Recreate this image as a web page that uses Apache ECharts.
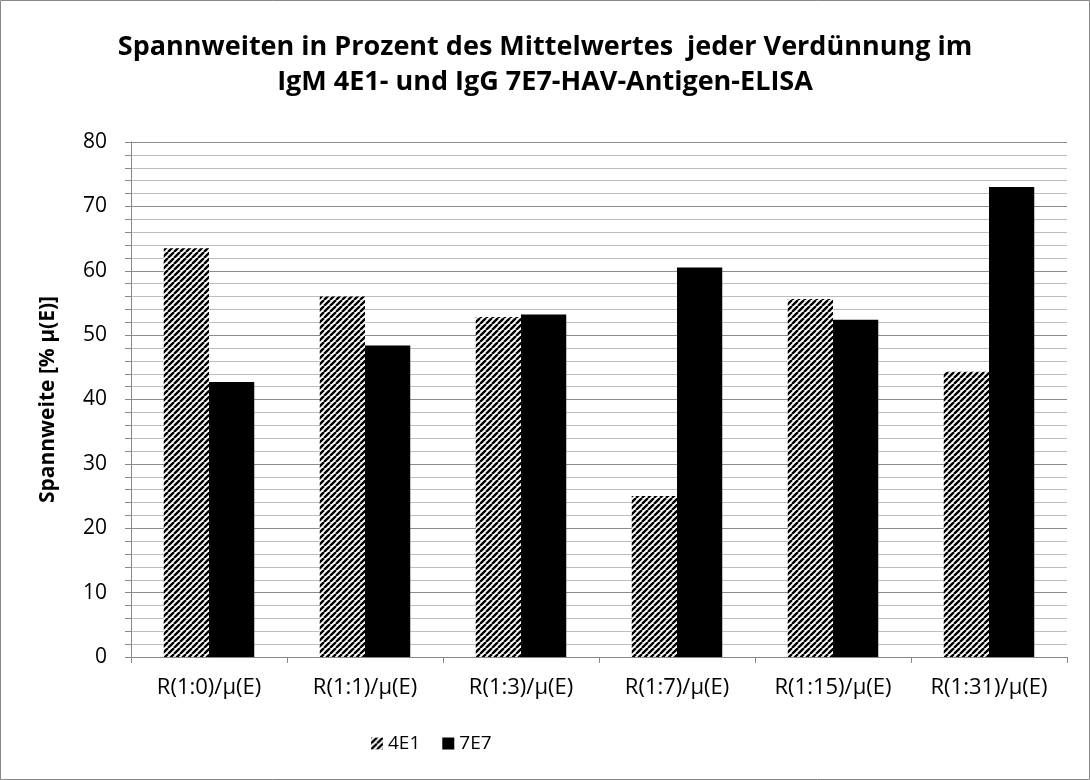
<!DOCTYPE html>
<html>
<head>
<meta charset="utf-8">
<script src="https://cdn.jsdelivr.net/npm/echarts@6/dist/echarts.min.js"></script>
<style>
  html, body { margin: 0; padding: 0; background: #fff; }
  #chart { width: 1090px; height: 780px; }
</style>
</head>
<body>
<div id="chart"></div>
<script>
const categories = ['R(1:0)/µ(E)', 'R(1:1)/µ(E)', 'R(1:3)/µ(E)', 'R(1:7)/µ(E)', 'R(1:15)/µ(E)', 'R(1:31)/µ(E)'];
const values4E1 = [63.5, 56.0, 52.8, 25.0, 55.6, 44.3];
const values7E7 = [42.7, 48.4, 53.2, 60.5, 52.4, 73.0];

// diagonal hatch like the Excel "wide upward diagonal" fill
function makeHatch() {
  const c = document.createElement('canvas');
  c.width = 6; c.height = 6;
  const ctx = c.getContext('2d');
  ctx.fillStyle = '#fff';
  ctx.fillRect(0, 0, 6, 6);
  ctx.strokeStyle = '#000';
  ctx.lineWidth = 2.4;
  ctx.beginPath();
  for (let k = -12; k <= 12; k += 6) {
    ctx.moveTo(k, 6);
    ctx.lineTo(k + 6, 0);
  }
  ctx.stroke();
  return c;
}
const hatch = { image: makeHatch(), repeat: 'repeat' };

const font = 'Open Sans';
const chart = echarts.init(document.getElementById('chart'));
const option = {
  animation: false,
  backgroundColor: '#fff',
  title: {
    text: 'Spannweiten in Prozent des Mittelwertes  jeder Verdünnung im\nIgM 4E1- und IgG 7E7-HAV-Antigen-ELISA',
    left: 'center',
    top: 25,
    textStyle: { fontFamily: font, fontWeight: 'bold', fontSize: 27, color: '#000', lineHeight: 35 }
  },
  graphic: [{
    type: 'rect',
    shape: { x: 0.5, y: 0.5, width: 1089, height: 779 },
    style: { fill: 'none', stroke: '#888', lineWidth: 1 },
    silent: true
  }],
  legend: {
    bottom: 22,
    left: 366,
    itemWidth: 12,
    itemHeight: 12,
    itemGap: 22,
    textStyle: { fontFamily: font, fontSize: 19, color: '#000' },
    data: [
      { name: '4E1', icon: 'rect', itemStyle: { color: hatch } },
      { name: '7E7', icon: 'rect' }
    ]
  },
  grid: { left: 131, right: 23, top: 142, bottom: 123 },
  xAxis: {
    type: 'category',
    data: categories,
    axisLine: { lineStyle: { color: '#888' } },
    axisTick: { show: true, length: 6, lineStyle: { color: '#888' } },
    axisLabel: { fontFamily: font, fontSize: 22, color: '#000', margin: 20 }
  },
  yAxis: {
    type: 'value',
    min: 0, max: 80, interval: 10,
    name: 'Spannweite [% µ(E)]',
    nameLocation: 'middle',
    nameGap: 72,
    nameTextStyle: { fontFamily: font, fontWeight: 'bold', fontSize: 21, color: '#000' },
    axisLine: { show: true, lineStyle: { color: '#888' } },
    axisTick: { show: true, inside: false, length: 6, lineStyle: { color: '#888' } },
    minorTick: { show: true, splitNumber: 5, length: 6, lineStyle: { color: '#888' } },
    axisLabel: { fontFamily: font, fontSize: 21, color: '#000', margin: 24 },
    splitLine: { show: true, lineStyle: { color: '#8c8c8c', width: 1 } },
    minorSplitLine: { show: true, lineStyle: { color: '#bdbdbd', width: 1 } }
  },
  series: [
    {
      name: '4E1',
      type: 'bar',
      data: values4E1,
      barGap: '0%',
      barCategoryGap: '42%',
      itemStyle: { color: hatch }
    },
    {
      name: '7E7',
      type: 'bar',
      data: values7E7,
      itemStyle: { color: '#000' }
    }
  ]
};
chart.setOption(option);
</script>
</body>
</html>
